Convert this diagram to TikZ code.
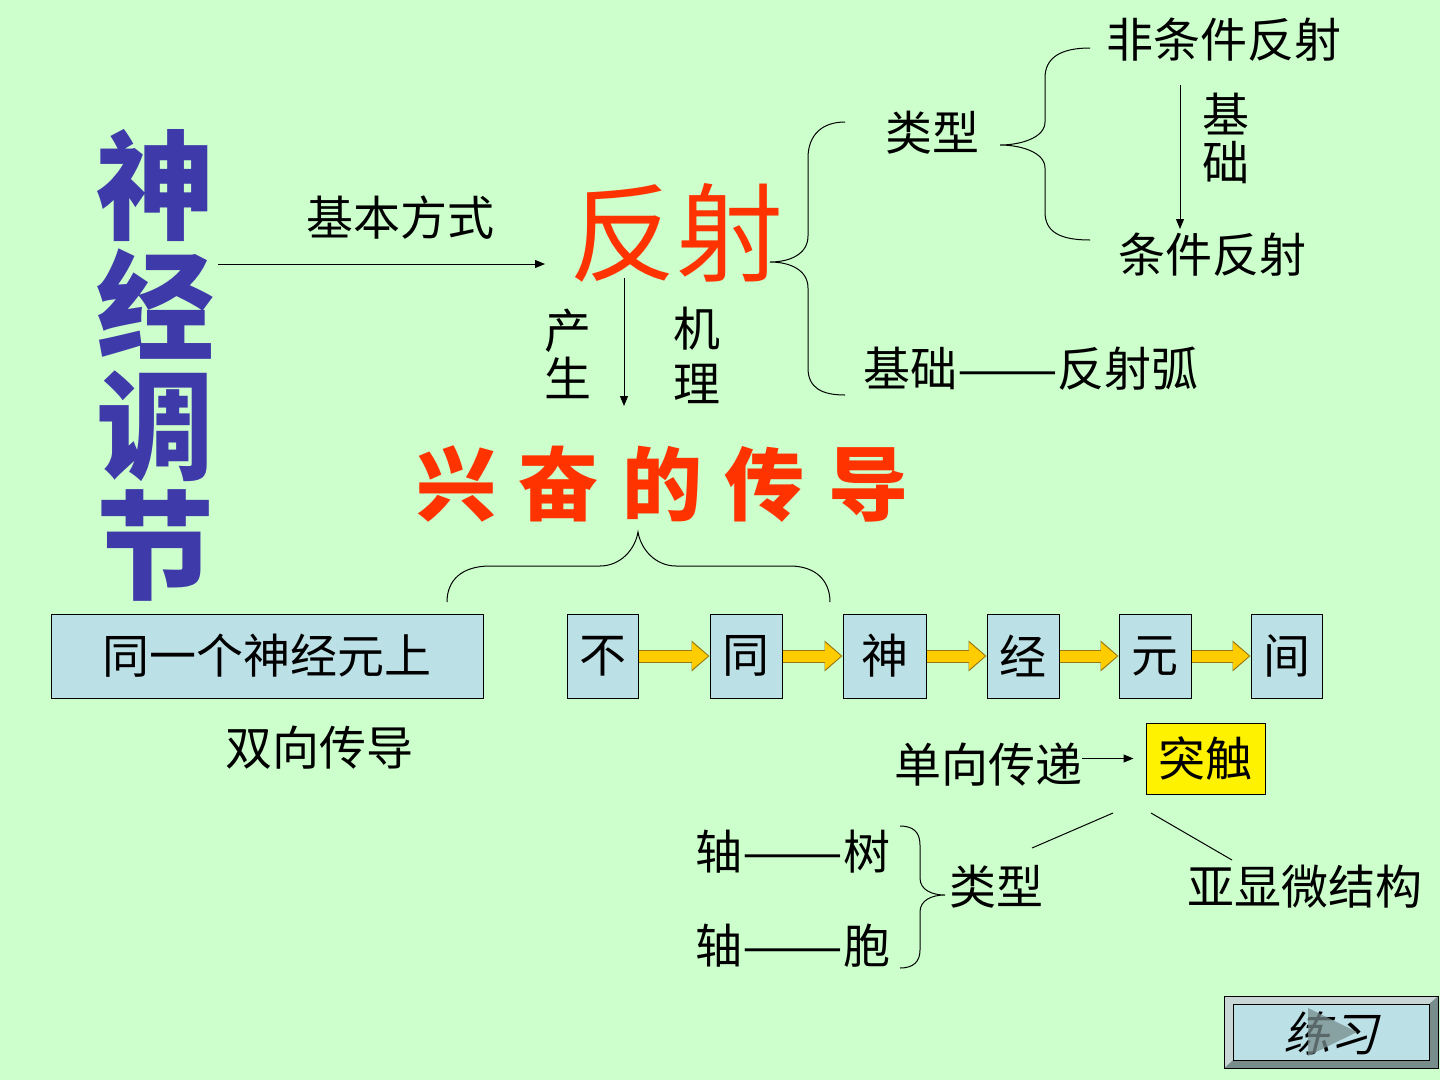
\documentclass[tikz,border=0pt]{standalone}
\usepackage{fontspec}
\newfontfamily\cjk{Noto Sans CJK SC}
\usepackage{graphicx}
\usepackage{tikz}
\usetikzlibrary{arrows.meta,positioning}
\definecolor{bggreen}{RGB}{204,255,204}
\definecolor{titleblue}{RGB}{62,58,170}
\definecolor{hotred}{RGB}{255,51,0}
\definecolor{boxblue}{RGB}{187,224,230}
\definecolor{fatyellow}{RGB}{255,204,0}
\definecolor{goldedge}{RGB}{150,120,20}
\definecolor{bevellight}{RGB}{200,214,214}
\definecolor{beveldark}{RGB}{120,140,140}
\newcommand{\longdash}{\scalebox{1.28}[1]{——}}
\tikzset{
	txt/.style={font=\cjk\fontsize{47}{48}\selectfont, inner sep=0pt, align=center},
	cell/.style={
		txt,
		draw=black,
		line width=1pt,
		fill=boxblue,
		minimum height=84pt
	},
	thinarrow/.style={
		-{Triangle[length=10pt,width=8pt]},
		line width=1pt
	},
	fat/.style={
		-{Triangle[length=16pt,width=26pt]},
		line width=11pt,
		draw=fatyellow,
		shorten >=1.5pt,
		preaction={
			draw=goldedge,
			line width=13pt,
			shorten >=0pt,
			-{Triangle[length=18pt,width=30pt]}
		}
	},
	brace/.style={line width=1pt}
}

\begin{document}
\begin{tikzpicture}[x=1pt,y=-1pt]

	\fill[bggreen] (0,0) rectangle (1440,1080);
	\useasboundingbox (0,0) rectangle (1440,1080);

	%% Title
	\node[txt, font=\cjk\bfseries\fontsize{118}{120}\selectfont, text=titleblue] (title) at (155,365) {神\\经\\调\\节};

	%% Reflex
	\node[txt] (jbfs) at (400,218) {基本方式};
	\node[txt, font=\cjk\fontsize{107}{110}\selectfont, text=hotred] (fanshe) at (676,233) {反射};
	\coordinate (a1) at (218,264);
	\coordinate (a2) at (545,264);
	\draw[thinarrow] (a1) -- (a2);

	% Types and basis
	\node[txt] (leixing) at (932,133) {类型};
	\node[txt] (fei) at (1224,40) {非条件反射};
	\node[txt] (tiaojian) at (1212,255) {条件反射};
	\node[txt] (jichu) at (1226,138) {基\\础};
	\node[txt] (hu) at (1031,369) {基础\longdash 反射弧};
	\coordinate (b1) at (1180,85);
	\coordinate (b2) at (1180,229);
	\draw[thinarrow] (b1) -- (b2);

	\draw[brace] (845,122) .. controls (822,122) and (808,135) .. (808,158) -- (808,236)
		.. controls (808,254) and (790,262) .. (770,262)
		.. controls (790,262) and (808,270) .. (808,288) -- (808,368)
		.. controls (808,388) and (822,395) .. (845,395);
	\draw[brace] (1090,48) .. controls (1060,48) and (1045,58) .. (1045,78) -- (1045,122)
		.. controls (1045,138) and (1020,145) .. (1000,145)
		.. controls (1020,145) and (1045,152) .. (1045,168) -- (1045,212)
		.. controls (1045,232) and (1060,240) .. (1090,240);

	% Mechanism
	\node[txt] (chansheng) at (568,354) {产\\生};
	\node[txt, font=\cjk\fontsize{47}{55}\selectfont] (jili) at (697,355) {机\\理};
	\coordinate (c1) at (624,278);
	\coordinate (c2) at (624,406);
	\draw[thinarrow] (c1) -- (c2);

	%% Conduction
	\node[txt, font=\cjk\bfseries\fontsize{80}{84}\selectfont, text=hotred] (xingfen) at (662,484)
		{兴\hspace{23pt}奋\hspace{23pt}的\hspace{23pt}传\hspace{23pt}导};
	\draw[brace] (447,602) .. controls (447,580) and (462,566) .. (490,566) -- (600,566)
		.. controls (620,566) and (635,550) .. (638,532)
		.. controls (641,550) and (656,566) .. (676,566) -- (790,566)
		.. controls (815,566) and (830,580) .. (830,602);

	% Same neuron
	\node[cell, minimum width=432pt] (same) at (267,656) {同一个神经元上};
	\node[txt] (shuangxiang) at (319,748) {双向传导};

	% Between neurons
	\node[cell, minimum width=71pt] (bu) at (602.5,656) {不};
	\node[cell, minimum width=72pt] (tong) at (746,656) {同};
	\node[cell, minimum width=83pt] (shen) at (884.5,656) {神};
	\node[cell, minimum width=72pt] (jing) at (1023,656) {经};
	\node[cell, minimum width=72pt] (yuan) at (1155,656) {元};
	\node[cell, minimum width=71pt] (jian) at (1286.5,656) {间};
	\foreach \a/\b in {bu/tong,tong/shen,shen/jing,jing/yuan,yuan/jian} {
		\draw[fat] (\a.east) -- (\b.west);
	}

	%% Synapse
	\node[txt] (danxiang) at (988,765) {单向传递};
	\node[txt, draw=black, line width=1pt, fill=yellow, minimum width=119pt, minimum height=71pt] (tuchu) at (1205.5,758.5) {突触};
	\draw[thinarrow, shorten >=12pt] (danxiang.east |- tuchu.west) -- (tuchu.west);

	\coordinate (d1) at (1113,813);
	\coordinate (d2) at (1032,848);
	\coordinate (d3) at (1151,813);
	\coordinate (d4) at (1232,860);
	\draw[line width=1pt] (d1) -- (d2);
	\draw[line width=1pt] (d3) -- (d4);

	\node[txt] (leixing2) at (996,887) {类型};
	\node[txt] (yaxian) at (1305,887) {亚显微结构};
	\node[txt] (zhoushu) at (793,852) {轴\longdash 树};
	\node[txt] (zhoubao) at (793,946) {轴\longdash 胞};
	\draw[brace] (900,826) .. controls (913,826) and (920,832) .. (920,845) -- (920,878)
		.. controls (920,890) and (932,895) .. (945,895)
		.. controls (932,895) and (920,900) .. (920,912) -- (920,950)
		.. controls (920,962) and (913,968) .. (900,968);

	%% Exercise button
	\fill[beveldark] (1224,996) rectangle (1438,1068);
	\fill[bevellight] (1224,996) -- (1438,996) -- (1429,1004) -- (1233,1004) -- (1233,1060) -- (1224,1068) -- cycle;
	\draw[line width=1pt, fill=boxblue] (1233,1004) rectangle (1429,1060);
	\draw[line width=1pt] (1224,996) rectangle (1438,1068);
	\node[txt, xslant=0.25, transform shape] (lianxi) at (1335,1033) {练习};
	\fill[beveldark, opacity=0.75] (1308,1008) -- (1357,1032) -- (1308,1056) -- cycle;

\end{tikzpicture}
\end{document}
